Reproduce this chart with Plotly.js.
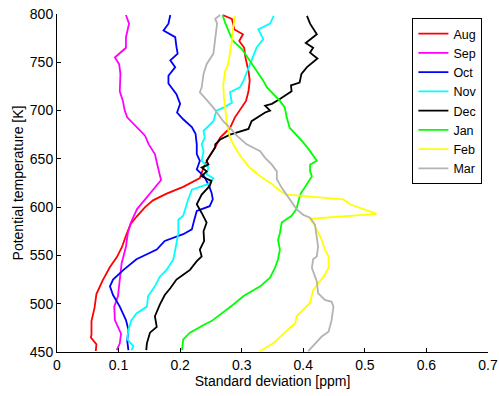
<!DOCTYPE html>
<html>
<head>
<meta charset="utf-8">
<script src="https://cdn.plot.ly/plotly-3.0.1.min.js"></script>
<style>html,body{margin:0;padding:0;background:#fff;}#chart{width:499px;height:396px;}</style>
</head>
<body>
<div id="chart"></div>
<script>
// Potential temperature [K] levels and standard deviation [ppm] per month
var thetaAug = [799,795,784,779,772,765,755,741,731,720,710,700,693,682,672,662,651,641,630,621,614,607,600,590,583,572,558,548,538,524,510,496,482,468,465,458,451];
var sdAug    = [0.269,0.284,0.288,0.302,0.296,0.304,0.306,0.311,0.313,0.311,0.307,0.297,0.289,0.281,0.265,0.257,0.246,0.238,0.232,0.205,0.178,0.156,0.143,0.129,0.120,0.113,0.105,0.097,0.086,0.074,0.064,0.061,0.056,0.056,0.055,0.064,0.063];

var thetaSep = [799,790,776,765,755,748,738,727,720,710,700,693,682,674,665,655,641,628,618,608,598,584,573,559,542,525,508,497,483,469,459,452];
var sdSep    = [0.112,0.117,0.112,0.112,0.094,0.101,0.103,0.103,0.102,0.107,0.110,0.114,0.130,0.143,0.149,0.159,0.164,0.169,0.156,0.143,0.130,0.120,0.115,0.112,0.105,0.102,0.099,0.093,0.094,0.104,0.102,0.097];

var thetaOct = [799,790,783,776,766,759,752,745,736,728,717,707,698,691,683,676,665,655,648,639,632,622,615,608,601,596,587,577,572,565,556,546,535,525,518,509,497,483,473,462,452];
var sdOct    = [0.184,0.181,0.173,0.192,0.194,0.196,0.184,0.192,0.181,0.181,0.194,0.200,0.195,0.205,0.219,0.225,0.227,0.227,0.232,0.227,0.239,0.247,0.251,0.253,0.248,0.227,0.223,0.219,0.205,0.175,0.162,0.129,0.108,0.091,0.086,0.091,0.102,0.112,0.116,0.114,0.116];

var thetaNov = [798,790,784,774,765,748,731,724,719,708,703,700,689,679,672,665,658,648,641,634,630,624,618,608,598,591,587,573,559,546,535,528,518,508,497,490,483,473,463,456,452];
var sdNov    = [0.352,0.346,0.327,0.335,0.324,0.313,0.303,0.297,0.281,0.284,0.270,0.259,0.254,0.238,0.240,0.235,0.238,0.235,0.246,0.243,0.254,0.246,0.219,0.213,0.208,0.205,0.197,0.197,0.193,0.189,0.178,0.167,0.159,0.148,0.146,0.129,0.121,0.116,0.114,0.124,0.121];

var thetaDec = [798,790,779,770,765,760,754,745,738,729,726,720,712,707,705,700,698,689,681,677,675,670,665,662,656,648,644,641,637,632,627,622,613,603,594,584,575,565,556,549,544,535,530,525,516,509,499,487,476,470,459,452];
var sdDec    = [0.406,0.411,0.422,0.404,0.416,0.411,0.423,0.406,0.397,0.394,0.380,0.381,0.362,0.349,0.338,0.346,0.338,0.316,0.311,0.292,0.281,0.265,0.257,0.257,0.251,0.243,0.246,0.235,0.243,0.235,0.251,0.248,0.235,0.227,0.235,0.243,0.238,0.239,0.232,0.235,0.227,0.216,0.205,0.194,0.184,0.175,0.167,0.159,0.162,0.151,0.146,0.145];

var thetaJan = [799,791,779,772,764,752,741,731,724,717,710,703,693,682,675,667,658,653,648,644,637,632,624,613,606,598,591,584,573,566,556,546,537,527,518,508,499,490,482,478,470,463,452];
var sdJan    = [0.269,0.273,0.281,0.286,0.300,0.313,0.324,0.335,0.341,0.351,0.362,0.370,0.373,0.378,0.389,0.400,0.411,0.416,0.422,0.411,0.411,0.414,0.406,0.395,0.392,0.389,0.381,0.365,0.362,0.359,0.362,0.359,0.354,0.346,0.330,0.303,0.286,0.267,0.251,0.238,0.216,0.205,0.203];

var thetaFeb = [798,786,772,759,748,741,727,714,700,686,672,662,651,641,632,629,624,617,613,608,603,593,588,577,566,556,549,537,528,521,514,501,490,487,480,470,459,451];
var sdFeb    = [0.289,0.286,0.284,0.281,0.278,0.273,0.270,0.271,0.273,0.276,0.281,0.289,0.300,0.313,0.330,0.338,0.349,0.362,0.373,0.465,0.476,0.519,0.411,0.422,0.430,0.435,0.441,0.441,0.433,0.424,0.416,0.411,0.395,0.389,0.387,0.370,0.351,0.330];

var thetaMar = [799,795,790,776,759,748,738,724,719,711,703,696,689,682,674,665,658,651,644,637,629,620,608,598,592,589,582,570,559,549,546,537,528,523,511,504,502,497,483,471,466,459,451];
var sdMar    = [0.265,0.257,0.260,0.257,0.254,0.243,0.238,0.235,0.232,0.243,0.254,0.262,0.270,0.281,0.292,0.308,0.330,0.338,0.349,0.357,0.357,0.365,0.378,0.389,0.400,0.411,0.419,0.422,0.424,0.422,0.416,0.414,0.419,0.422,0.424,0.435,0.446,0.449,0.446,0.441,0.430,0.419,0.408];

var monthNames = ['Aug','Sep','Oct','Nov','Dec','Jan','Feb','Mar'];
var xTicks = [0,0.1,0.2,0.3,0.4,0.5,0.6,0.7];
var xTickText = ['0','0.1','0.2','0.3','0.4','0.5','0.6','0.7'];
var yTicks = [450,500,550,600,650,700,750,800];

var xs = [sdAug, sdSep, sdOct, sdNov, sdDec, sdJan, sdFeb, sdMar];
var ys = [thetaAug, thetaSep, thetaOct, thetaNov, thetaDec, thetaJan, thetaFeb, thetaMar];
var colors = ['#ff0000','#ff00ff','#0000ff','#00ffff','#000000','#00ff00','#ffff00','#b3b3b3'];

var traces = monthNames.map(function(m, i){
  return {x: xs[i], y: ys[i], name: m, type: 'scatter', mode: 'lines',
          line: {color: colors[i], width: 1.8}, hoverinfo: 'skip'};
});

var fontFam = '"Liberation Sans", Arial, Helvetica, sans-serif';
var layout = {
  width: 499, height: 396,
  margin: {l: 57, r: 11, t: 14, b: 44, pad: 0},
  paper_bgcolor: '#fff', plot_bgcolor: '#fff',
  font: {family: fontFam, size: 14, color: '#000'},
  showlegend: true,
  legend: {x: 0.987, y: 0.988, xanchor: 'right', yanchor: 'top',
           bgcolor: '#fff', bordercolor: '#000', borderwidth: 1,
           font: {family: fontFam, size: 12.5, color: '#000'},
           tracegroupgap: 0},
  xaxis: {range: [0, 0.7], tickvals: xTicks, ticktext: xTickText,
          ticks: 'inside', ticklen: 4, tickcolor: '#000', tickwidth: 1,
          showline: true, linecolor: '#000', linewidth: 1, mirror: false,
          showgrid: false, zeroline: false, fixedrange: true,
          tickfont: {family: fontFam, size: 14, color: '#000'},
          title: {text: 'Standard deviation [ppm]', font: {family: fontFam, size: 14, color: '#000'}, standoff: 2}},
  yaxis: {range: [450, 800], tickvals: yTicks,
          ticks: 'inside', ticklen: 4, tickcolor: '#000', tickwidth: 1,
          showline: true, linecolor: '#000', linewidth: 1, mirror: false,
          showgrid: false, zeroline: false, fixedrange: true,
          tickfont: {family: fontFam, size: 14, color: '#000'},
          title: {text: 'Potential temperature [K]', font: {family: fontFam, size: 14, color: '#000'}, standoff: 2}}
};

Plotly.newPlot('chart', traces, layout, {staticPlot: true, displayModeBar: false});
</script>
</body>
</html>
